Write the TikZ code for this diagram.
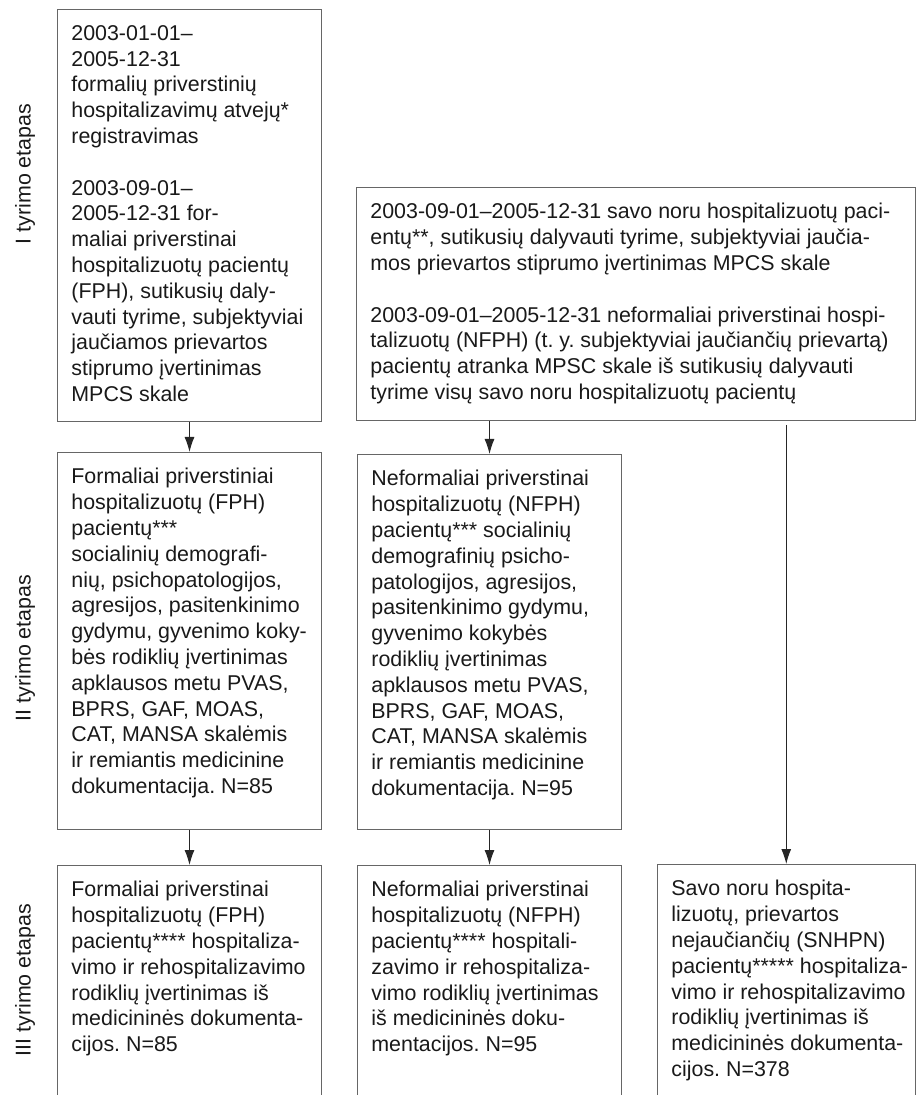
\documentclass[tikz,border=0pt]{standalone}
\usepackage{fontspec}
\setmainfont{Liberation Sans}
\usetikzlibrary{arrows.meta}
\frenchspacing

\tikzset{
	stagebox/.style={draw=black!60, line width=0.5pt, inner sep=0pt, anchor=north west, minimum width=132pt},
	boxtext/.style={anchor=north west, align=left, inner sep=0pt, text=black!90, font=\fontsize{10.7}{12.9}\selectfont},
	flow/.style={draw=black!85, line width=0.5pt, -{Latex[length=7.5pt,width=5pt]}},
	stagelabel/.style={rotate=90, inner sep=0pt, text=black!90, font=\fontsize{10.7}{12.9}\selectfont}
}

\begin{document}
\begin{tikzpicture}[x=0.5pt,y=-0.5pt]
	\useasboundingbox (0,0) rectangle (916,1095);
	\clip (0,0) rectangle (916,1095);

	% I tyrimo etapas
	\node [stagebox, minimum height=206pt] (fph1) at (57,9) {};
	\node [boxtext] (fph1t) at ([shift={(7pt,-8pt)}]fph1.north west) {2003-01-01–\\
		2005-12-31\\
		formalių priverstinių\\
		hospitalizavimų atvejų*\\
		registravimas\\[12.9pt]
		2003-09-01–\\
		2005-12-31 for-\\
		maliai priverstinai\\
		hospitalizuotų pacientų\\
		(FPH), sutikusių daly-\\
		vauti tyrime, subjektyviai\\
		jaučiamos prievartos\\
		stiprumo įvertinimas\\
		MPCS skale};
	\node [stagebox, minimum width=279.25pt, minimum height=116.5pt] (sav1) at (356,187) {};
	\node [boxtext] (sav1t) at ([shift={(7pt,-8pt)}]sav1.north west) {2003-09-01–2005-12-31 savo noru hospitalizuotų paci-\\
		entų**, sutikusių dalyvauti tyrime, subjektyviai jaučia-\\
		mos prievartos stiprumo įvertinimas MPCS skale\\[12.9pt]
		2003-09-01–2005-12-31 neformaliai priverstinai hospi-\\
		talizuotų (NFPH) (t. y. subjektyviai jaučiančių prievartą)\\
		pacientų atranka MPSC skale iš sutikusių dalyvauti\\
		tyrime visų savo noru hospitalizuotų pacientų};

	% II tyrimo etapas
	\node [stagebox, minimum height=188.5pt] (fph2) at (57,452) {};
	\node [boxtext] (fph2t) at ([shift={(7pt,-8pt)}]fph2.north west) {Formaliai priverstiniai\\
		hospitalizuotų (FPH)\\
		pacientų***\\
		socialinių demografi-\\
		nių, psichopatologijos,\\
		agresijos, pasitenkinimo\\
		gydymu, gyvenimo koky-\\
		bės rodiklių įvertinimas\\
		apklausos metu PVAS,\\
		BPRS, GAF, MOAS,\\
		CAT, MANSA skalėmis\\
		ir remiantis medicinine\\
		dokumentacija. N=85};
	\node [stagebox, minimum height=187.5pt] (nfph2) at (357,454) {};
	\node [boxtext] (nfph2t) at ([shift={(7pt,-8pt)}]nfph2.north west) {Neformaliai priverstinai\\
		hospitalizuotų (NFPH)\\
		pacientų*** socialinių\\
		demografinių psicho-\\
		patologijos, agresijos,\\
		pasitenkinimo gydymu,\\
		gyvenimo kokybės\\
		rodiklių įvertinimas\\
		apklausos metu PVAS,\\
		BPRS, GAF, MOAS,\\
		CAT, MANSA skalėmis\\
		ir remiantis medicinine\\
		dokumentacija. N=95};

	% III tyrimo etapas
	\node [stagebox, minimum height=127.5pt] (fph3) at (57,865) {};
	\node [boxtext] (fph3t) at ([shift={(7pt,-8pt)}]fph3.north west) {Formaliai priverstinai\\
		hospitalizuotų (FPH)\\
		pacientų**** hospitaliza-\\
		vimo ir rehospitalizavimo\\
		rodiklių įvertinimas iš\\
		medicininės dokumenta-\\
		cijos. N=85};
	\node [stagebox, minimum height=127.5pt] (nfph3) at (357,865) {};
	\node [boxtext] (nfph3t) at ([shift={(7pt,-8pt)}]nfph3.north west) {Neformaliai priverstinai\\
		hospitalizuotų (NFPH)\\
		pacientų**** hospitali-\\
		zavimo ir rehospitaliza-\\
		vimo rodiklių įvertinimas\\
		iš medicininės doku-\\
		mentacijos. N=95};
	\node [stagebox, minimum width=128.75pt, minimum height=127.5pt] (snh3) at (657,864) {};
	\node [boxtext] (snh3t) at ([shift={(7pt,-8pt)}]snh3.north west) {Savo noru hospita-\\
		lizuotų, prievartos\\
		nejaučiančių (SNHPN)\\
		pacientų***** hospitaliza-\\
		vimo ir rehospitalizavimo\\
		rodiklių įvertinimas iš\\
		medicininės dokumenta-\\
		cijos. N=378};

	% etapai
	\node [stagelabel] (st1) at (25,174) {I tyrimo etapas};
	\node [stagelabel] (st2) at (25,648) {II tyrimo etapas};
	\node [stagelabel] (st3) at (25,980) {III tyrimo etapas};

	% rodykles
	\draw [flow] (fph1) -- (fph2);
	\draw [flow] (nfph2 |- sav1.south) -- (nfph2.north);
	\draw [flow, shorten <=2pt] (snh3 |- sav1.south) -- (snh3.north);
	\draw [flow] (fph2) -- (fph3);
	\draw [flow] (nfph2) -- (nfph3);
\end{tikzpicture}
\end{document}
